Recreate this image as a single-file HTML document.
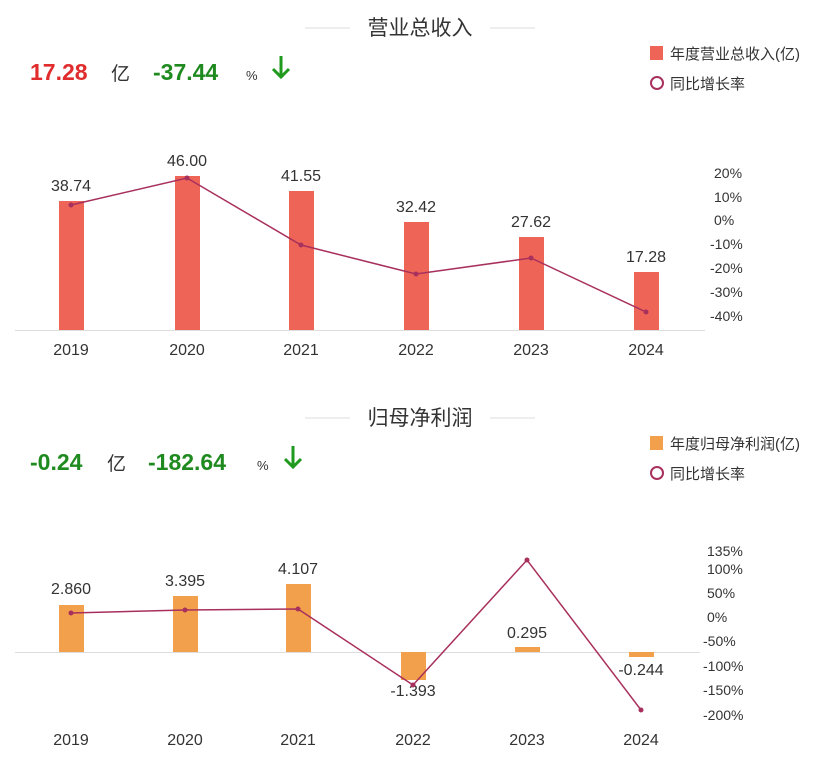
<!DOCTYPE html><html><head><meta charset="utf-8"><style>
body{margin:0;background:#fff;width:831px;height:772px;overflow:hidden}
svg text{font-family:"Liberation Sans","Noto Sans CJK SC",sans-serif}
</style></head><body>
<svg width="831" height="772" xmlns="http://www.w3.org/2000/svg">
<g fill="#333">
<!-- top -->
<line x1="305" y1="28" x2="350" y2="28" stroke="#ddd"/><line x1="490" y1="28" x2="535" y2="28" stroke="#ddd"/>
<text x="420" y="35" font-size="21" text-anchor="middle">营业总收入</text>
<text x="30" y="80" font-size="23" font-weight="bold" fill="#e02c2c">17.28</text>
<text x="111" y="80" font-size="19">亿</text>
<text x="153" y="80" font-size="23" font-weight="bold" fill="#1f8a1f">-37.44</text>
<text x="246" y="80" font-size="13">%</text>
<path d="M281 56 v20 M273 69 l8 8 l8 -8" stroke="#1f9a1f" stroke-width="3" fill="none"/>
<rect x="650" y="46" width="13" height="14" fill="#ee6457"/>
<text x="670" y="59" font-size="15">年度营业总收入(亿)</text>
<circle cx="657" cy="83" r="6" fill="none" stroke="#a8305c" stroke-width="2"/>
<text x="670" y="89" font-size="15">同比增长率</text>
<line x1="15" y1="330.5" x2="705" y2="330.5" stroke="#ddd"/>
<g fill="#ee6457">
<rect x="59" y="201" width="25" height="129"/><rect x="175" y="176" width="25" height="154"/><rect x="289" y="191" width="25" height="139"/><rect x="404" y="222" width="25" height="108"/><rect x="519" y="237" width="25" height="93"/><rect x="634" y="272" width="25" height="58"/>
</g>
<g font-size="16" text-anchor="middle">
<text x="71" y="191">38.74</text><text x="187" y="166">46.00</text><text x="301" y="181">41.55</text><text x="416" y="212">32.42</text><text x="531" y="227">27.62</text><text x="646" y="262">17.28</text>
<text x="71" y="355">2019</text><text x="187" y="355">2020</text><text x="301" y="355">2021</text><text x="416" y="355">2022</text><text x="531" y="355">2023</text><text x="646" y="355">2024</text>
</g>
<polyline points="71,205 187,178 301,245 416,274 531,258 646,312" fill="none" stroke="#a8305c" stroke-width="1.5"/>
<g fill="#a8305c"><circle cx="71" cy="205" r="2.5"/><circle cx="187" cy="178" r="2.5"/><circle cx="301" cy="245" r="2.5"/><circle cx="416" cy="274" r="2.5"/><circle cx="531" cy="258" r="2.5"/><circle cx="646" cy="312" r="2.5"/></g>
<g font-size="14">
<text x="714" y="178">20%</text><text x="714" y="202">10%</text><text x="714" y="225">0%</text><text x="710" y="249">-10%</text><text x="710" y="273">-20%</text><text x="710" y="297">-30%</text><text x="710" y="321">-40%</text>
</g>
<!-- bottom -->
<line x1="305" y1="418" x2="350" y2="418" stroke="#ddd"/><line x1="490" y1="418" x2="535" y2="418" stroke="#ddd"/>
<text x="420" y="425" font-size="21" text-anchor="middle">归母净利润</text>
<text x="30" y="470" font-size="23" font-weight="bold" fill="#1f8a1f">-0.24</text>
<text x="107" y="470" font-size="19">亿</text>
<text x="148" y="470" font-size="23" font-weight="bold" fill="#1f8a1f">-182.64</text>
<text x="257" y="470" font-size="13">%</text>
<path d="M293 446 v20 M285 459 l8 8 l8 -8" stroke="#1f9a1f" stroke-width="3" fill="none"/>
<rect x="650" y="436" width="13" height="14" fill="#f3a04c"/>
<text x="670" y="449" font-size="15">年度归母净利润(亿)</text>
<circle cx="657" cy="473" r="6" fill="none" stroke="#a8305c" stroke-width="2"/>
<text x="670" y="479" font-size="15">同比增长率</text>
<line x1="15" y1="652.5" x2="700" y2="652.5" stroke="#ddd"/>
<g fill="#f3a04c">
<rect x="59" y="605" width="25" height="47"/><rect x="173" y="596" width="25" height="56"/><rect x="286" y="584" width="25" height="68"/><rect x="401" y="652" width="25" height="28"/><rect x="515" y="647" width="25" height="5"/><rect x="629" y="652" width="25" height="5"/>
</g>
<g font-size="16" text-anchor="middle">
<text x="71" y="594">2.860</text><text x="185" y="586">3.395</text><text x="298" y="574">4.107</text><text x="413" y="696">-1.393</text><text x="527" y="638">0.295</text><text x="641" y="675">-0.244</text>
<text x="71" y="745">2019</text><text x="185" y="745">2020</text><text x="298" y="745">2021</text><text x="413" y="745">2022</text><text x="527" y="745">2023</text><text x="641" y="745">2024</text>
</g>
<polyline points="71,613 185,610 298,609 413,685 527,560 641,710" fill="none" stroke="#a8305c" stroke-width="1.5"/>
<g fill="#a8305c"><circle cx="71" cy="613" r="2.5"/><circle cx="185" cy="610" r="2.5"/><circle cx="298" cy="609" r="2.5"/><circle cx="413" cy="685" r="2.5"/><circle cx="527" cy="560" r="2.5"/><circle cx="641" cy="710" r="2.5"/></g>
<g font-size="14">
<text x="707" y="556">135%</text><text x="707" y="574">100%</text><text x="707" y="598">50%</text><text x="707" y="622">0%</text><text x="703" y="646">-50%</text><text x="703" y="671">-100%</text><text x="703" y="695">-150%</text><text x="703" y="720">-200%</text>
</g>
</g>
</svg>
</body></html>
